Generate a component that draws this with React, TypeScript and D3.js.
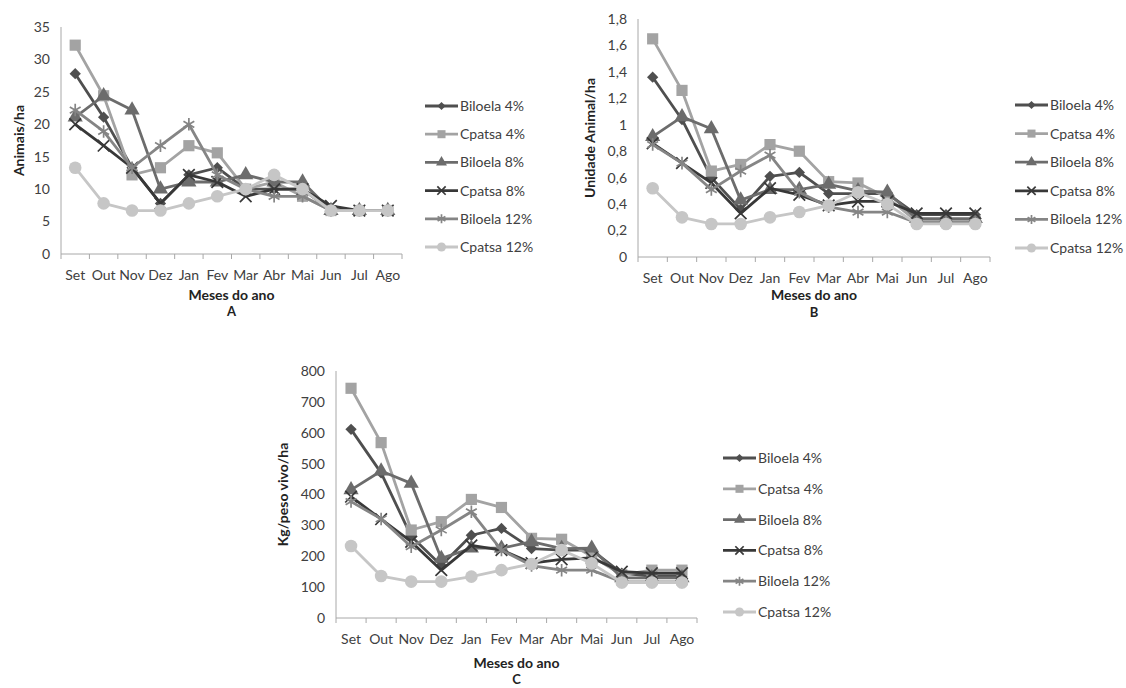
import React from 'react';
import * as d3 from 'd3';

// months on the x axis
const months = ['Set', 'Out', 'Nov', 'Dez', 'Jan', 'Fev', 'Mar', 'Abr', 'Mai', 'Jun', 'Jul', 'Ago'];
const seriesNames = ['Biloela 4%', 'Cpatsa 4%', 'Biloela 8%', 'Cpatsa 8%', 'Biloela 12%', 'Cpatsa 12%'];

// A - Animais/ha
const animaisBiloela4 = [27.8, 21.1, 13.3, 7.8, 12.2, 13.3, 10, 10, 10, 6.7, 6.7, 6.7];
const animaisCpatsa4 = [32.2, 24.4, 12.2, 13.3, 16.7, 15.6, 10, 11.1, 8.9, 6.7, 6.7, 6.7];
const animaisBiloela8 = [21.1, 24.4, 22.2, 10, 11.1, 11.1, 12.2, 11.1, 11.1, 6.7, 6.7, 6.7];
const animaisCpatsa8 = [20, 16.7, 13.3, 7.8, 12.2, 11.1, 8.9, 10, 10, 7.4, 6.7, 6.7];
const animaisBiloela12 = [22.2, 18.9, 13.3, 16.7, 20, 12.2, 10, 8.9, 8.9, 6.7, 6.7, 6.7];
const animaisCpatsa12 = [13.3, 7.8, 6.7, 6.7, 7.8, 8.9, 10, 12.2, 10, 6.7, 6.7, 6.7];

// B - Unidade Animal/ha
const uaBiloela4 = [1.36, 1.04, 0.6, 0.36, 0.61, 0.64, 0.48, 0.48, 0.48, 0.32, 0.32, 0.32];
const uaCpatsa4 = [1.65, 1.26, 0.65, 0.7, 0.85, 0.8, 0.57, 0.56, 0.45, 0.27, 0.27, 0.27];
const uaBiloela8 = [0.91, 1.06, 0.97, 0.43, 0.51, 0.51, 0.55, 0.5, 0.49, 0.29, 0.29, 0.29];
const uaCpatsa8 = [0.86, 0.71, 0.56, 0.33, 0.52, 0.47, 0.39, 0.42, 0.42, 0.33, 0.33, 0.33];
const uaBiloela12 = [0.85, 0.71, 0.51, 0.65, 0.77, 0.49, 0.38, 0.34, 0.34, 0.26, 0.26, 0.26];
const uaCpatsa12 = [0.52, 0.3, 0.25, 0.25, 0.3, 0.34, 0.39, 0.49, 0.4, 0.25, 0.25, 0.25];

// C - Kg/peso vivo/ha
const kgBiloela4 = [611, 470, 265, 170, 268, 290, 225, 220, 220, 145, 135, 135];
const kgCpatsa4 = [744, 568, 285, 312, 384, 358, 258, 255, 200, 140, 155, 155];
const kgBiloela8 = [415, 476, 436, 193, 226, 226, 247, 225, 226, 130, 130, 130];
const kgCpatsa8 = [393, 320, 247, 155, 235, 220, 178, 190, 195, 150, 145, 145];
const kgBiloela12 = [377, 321, 231, 285, 344, 220, 170, 155, 155, 117, 117, 117];
const kgCpatsa12 = [233, 136, 118, 118, 134, 155, 175, 220, 177, 115, 115, 115];

const colors = ['#4f4f4f', '#a3a3a3', '#6c6c6c', '#383838', '#858585', '#c6c6c6'];
// diamond = square turned 45deg (Excel style)
const symbols = [d3.symbolSquare, d3.symbolSquare, d3.symbolTriangle, d3.symbolTimes, d3.symbolAsterisk, d3.symbolCircle];
const symbolSizes = [64, 125, 100, 90, 110, 125];
const rotations = [45, 0, 0, 0, 0, 0];
const stroked = [false, false, false, true, true, false];

const FONT = 'Lato, "Open Sans", sans-serif';
const TEXT = '#404040';
const AXIS = '#a8a8a8';

const commaFmt = (d: number) => String(+d.toFixed(1)).replace('.', ',');

const panels = [
  {
    values: [animaisBiloela4, animaisCpatsa4, animaisBiloela8, animaisCpatsa8, animaisBiloela12, animaisCpatsa12],
    left: 61, right: 402, bottom: 254, top: 27, max: 35, step: 5, fmt: (d: number) => String(d),
    yTitle: 'Animais/ha', yTitleX: 19, xTitleY: 295, letter: 'A', letterY: 311,
    legendX: 425, legendY: 106, legendDy: 28.2,
  },
  {
    values: [uaBiloela4, uaCpatsa4, uaBiloela8, uaCpatsa8, uaBiloela12, uaCpatsa12],
    left: 638, right: 990, bottom: 257, top: 19, max: 1.8, step: 0.2, fmt: commaFmt,
    yTitle: 'Unidade Animal/ha', yTitleX: 590, xTitleY: 295, letter: 'B', letterY: 312,
    legendX: 1015, legendY: 105, legendDy: 28.6,
  },
  {
    values: [kgBiloela4, kgCpatsa4, kgBiloela8, kgCpatsa8, kgBiloela12, kgCpatsa12],
    left: 336, right: 697, bottom: 618, top: 371, max: 800, step: 100, fmt: (d: number) => String(d),
    yTitle: 'Kg/peso vivo/ha', yTitleX: 283, xTitleY: 663, letter: 'C', letterY: 679,
    legendX: 723, legendY: 458, legendDy: 30.8,
  },
];

function Marker({ i, x, y, scale = 1 }: { i: number; x: number; y: number; scale?: number }) {
  const path = d3.symbol(symbols[i], symbolSizes[i] * scale * scale)() || '';
  return (
    <path
      d={path}
      transform={`translate(${x},${y}) rotate(${rotations[i]})`}
      fill={stroked[i] ? 'none' : colors[i]}
      stroke={colors[i]}
      strokeWidth={stroked[i] ? 1.7 : 0}
    />
  );
}

function Panel({ p }: { p: (typeof panels)[number] }) {
  const x = d3.scaleBand<string>().domain(months).range([p.left, p.right]);
  const y = d3.scaleLinear().domain([0, p.max]).range([p.bottom, p.top]);
  const ticks = d3.range(0, p.max + p.step / 2, p.step);
  const cx = (m: string) => (x(m) as number) + x.bandwidth() / 2;
  const line = d3.line<number>().x((_, j) => cx(months[j])).y((v) => y(v));
  const midX = (p.left + p.right) / 2;
  const midY = (p.top + p.bottom) / 2;

  return (
    <g fontFamily={FONT}>
      {/* axes */}
      <line x1={p.left} x2={p.left} y1={p.top} y2={p.bottom} stroke={AXIS} />
      <line x1={p.left} x2={p.right} y1={p.bottom} y2={p.bottom} stroke={AXIS} />
      {ticks.map((t) => (
        <text key={t} x={p.left - 11} y={y(t)} dy="0.35em" textAnchor="end" fontSize={14} fill={TEXT}>
          {p.fmt(t)}
        </text>
      ))}
      {months.map((m) => (
        <line key={'t' + m} x1={x(m)} x2={x(m)} y1={p.bottom} y2={p.bottom + 5} stroke={AXIS} />
      ))}
      <line x1={p.right} x2={p.right} y1={p.bottom} y2={p.bottom + 5} stroke={AXIS} />
      {months.map((m) => (
        <text key={m} x={cx(m)} y={p.bottom + 21} dy="0.35em" textAnchor="middle" fontSize={14} fill={TEXT}>
          {m}
        </text>
      ))}
      <text x={midX} y={p.xTitleY} dy="0.35em" textAnchor="middle" fontSize={14} fontWeight="bold" fill="#222">
        Meses do ano
      </text>
      <text x={midX} y={p.letterY} dy="0.35em" textAnchor="middle" fontSize={13} fontWeight="bold" fill="#222">
        {p.letter}
      </text>
      <text
        transform={`translate(${p.yTitleX},${midY}) rotate(-90)`}
        dy="0.35em"
        textAnchor="middle"
        fontSize={14}
        fontWeight="bold"
        fill="#222"
      >
        {p.yTitle}
      </text>

      {/* series */}
      {p.values.map((vals, i) => (
        <g key={i}>
          <path d={line(vals) || ''} fill="none" stroke={colors[i]} strokeWidth={2.8} strokeLinejoin="round" />
          {vals.map((v, j) => (
            <Marker key={j} i={i} x={cx(months[j])} y={y(v)} />
          ))}
        </g>
      ))}

      {/* legend */}
      {seriesNames.map((name, i) => {
        const ly = p.legendY + i * p.legendDy;
        return (
          <g key={name}>
            <line x1={p.legendX} x2={p.legendX + 33} y1={ly} y2={ly} stroke={colors[i]} strokeWidth={2.8} />
            <Marker i={i} x={p.legendX + 16.5} y={ly} scale={0.72} />
            <text x={p.legendX + 35} y={ly} dy="0.35em" fontSize={14} fill={TEXT}>
              {name}
            </text>
          </g>
        );
      })}
    </g>
  );
}

export default function App() {
  return (
    <svg
      width={1126}
      height={688}
      style={{ position: 'absolute', left: 0, top: 0, background: '#fff' }}
    >
      <rect width={1126} height={688} fill="#fff" />
      {panels.map((p) => (
        <Panel key={p.letter} p={p} />
      ))}
    </svg>
  );
}
